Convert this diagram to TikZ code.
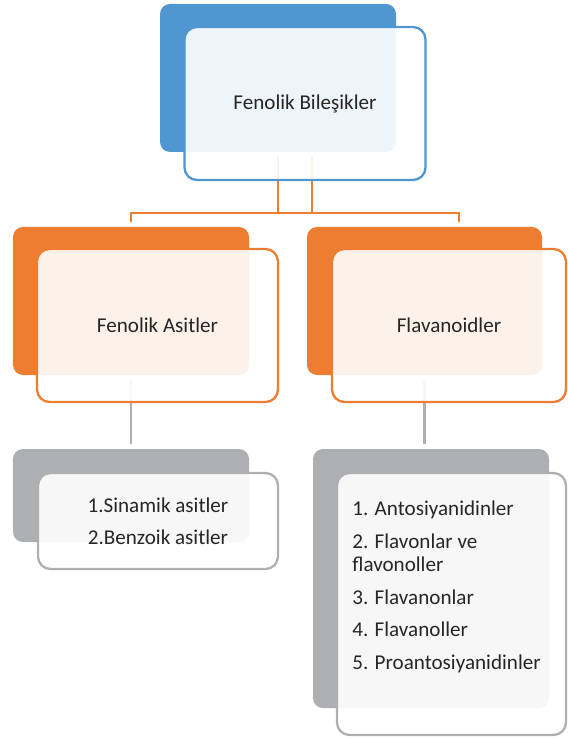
\documentclass[tikz,border=0pt]{standalone}
\usepackage{fontspec}
\setmainfont{Carlito}
\usepackage{tikz}
\usetikzlibrary{positioning,backgrounds}

\definecolor{smblue}{HTML}{5097D1}
\definecolor{smorange}{HTML}{ED7D31}
\definecolor{smgray}{HTML}{AEAFB2}
\definecolor{smtext}{HTML}{262626}

\begin{document}
\begin{tikzpicture}[
    back/.style={rectangle, rounded corners=0.2cm, minimum width=4.72cm, minimum height=2.96cm, inner sep=0pt},
    front/.style={rectangle, draw, line width=1.3pt, rounded corners=0.25cm, fill=white, fill opacity=0.9, text opacity=1, minimum width=4.82cm, minimum height=3.06cm, align=center, text=smtext, font=\fontsize{12}{13}\selectfont},
    listtext/.style={align=left, inner sep=0pt, text=smtext, font=\fontsize{12}{13}\selectfont},
    conn/.style={line width=1.2pt, shorten <=0.1cm, shorten >=0.1cm}
]
    \useasboundingbox (0,0) rectangle (11.34,-14.76);

    % Top level
    \node[back, fill=smblue] (fbback) at (5.56,-1.56) {};
    \node[front, draw=smblue] (fbfront) at (6.10,-2.07) {Fenolik Bileşikler};

    % Second level
    \node[back, fill=smorange] (faback) at (2.62,-6.02) {};
    \node[front, draw=smorange] (fafront) at (3.15,-6.51) {Fenolik Asitler};
    \node[back, fill=smorange, minimum width=4.70cm] (flback) at (8.49,-6.02) {};
    \node[front, draw=smorange, minimum width=4.68cm] (flfront) at (8.98,-6.51) {Flavanoidler};

    % Third level
    \node[back, fill=smgray, minimum height=1.86cm] (saback) at (2.62,-9.91) {};
    \node[front, draw=smgray, minimum width=4.80cm, minimum height=1.92cm] (safront) at (3.16,-10.42) {1.Sinamik asitler\\[5.4pt] 2.Benzoik asitler};
    \node[back, fill=smgray, minimum height=5.18cm] (flsback) at (8.62,-11.57) {};
    \node[front, draw=smgray, minimum width=4.58cm, minimum height=5.24cm] (flsfront) at (9.03,-12.08) {};
    \node[listtext, anchor=west] (flslist) at (7.04,-11.74) {1. Antosiyanidinler\\[5.7pt] 2. Flavonlar ve\\ flavonoller\\[5.7pt] 3. Flavanonlar\\[5.7pt] 4. Flavanoller\\[5.7pt] 5. Proantosiyanidinler};

    % Connectors
    \begin{scope}[on background layer]
        \draw[conn, smorange] ([xshift=0.68cm]fbback.south) -- ++(0,-1.22) -| (faback.north);
        \draw[conn, smorange] (fbback.south) -- ++(0,-1.22) -| ([xshift=0.69cm]flback.north);
        \draw[conn, smgray] (faback.south) -- (saback.north);
        \draw[conn, smgray] (flback.south) -- (flback.south |- flsback.north);
    \end{scope}

\end{tikzpicture}
\end{document}
